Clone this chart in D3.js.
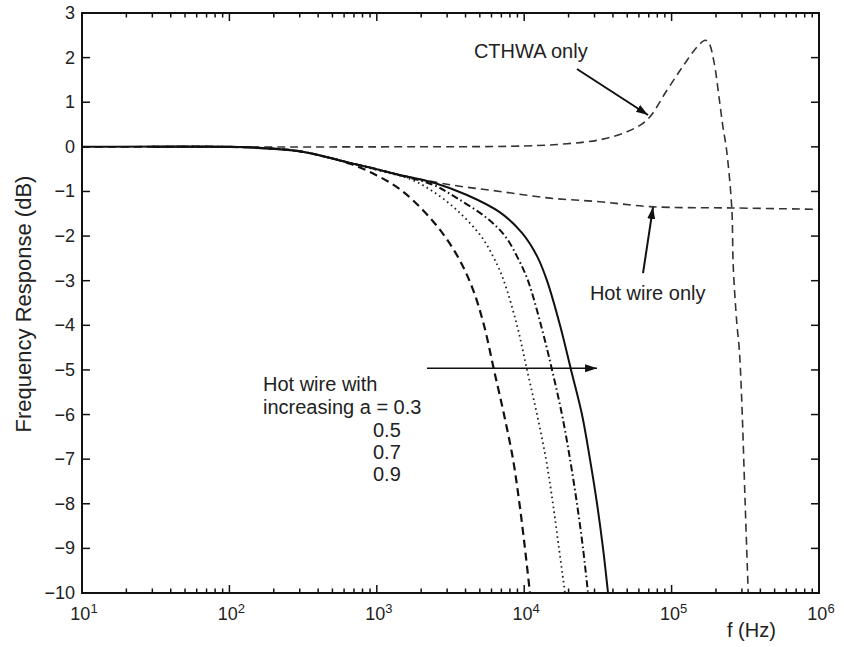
<!DOCTYPE html>
<html>
<head>
<meta charset="utf-8">
<script src="https://cdn.jsdelivr.net/npm/d3@7"></script>
<style>
  body { margin: 0; background: #fff; }
  text { font-family: "Liberation Sans", Arial, Helvetica, sans-serif; fill: #222; }
</style>
</head>
<body>
<div id="chart"></div>
<script>
// axis ticks
const decades = [1e1, 1e2, 1e3, 1e4, 1e5, 1e6];
const decadeExponents = ["1", "2", "3", "4", "5", "6"];
const dbTicks = [3, 2, 1, 0, -1, -2, -3, -4, -5, -6, -7, -8, -9, -10];

// series, [f (Hz), response (dB)]
const cthwaOnly = [[10,0],[1e3,0],[1e4,0.02],[1.95e4,0.07],[3.27e4,0.16],[4.98e4,0.34],[6.8e4,0.6],
  [9.3e4,1.27],[1.19e5,1.8],[1.49e5,2.24],[1.69e5,2.39],[1.79e5,2.33],[1.94e5,1.9],[2.10e5,1.1],
  [2.23e5,0.45],[2.36e5,-0.07],[2.56e5,-1.37],[2.62e5,-2.69],[2.77e5,-3.95],[2.88e5,-4.55],
  [2.99e5,-5.67],[3.15e5,-7.92],[3.31e5,-10]];
const hotWireOnly = [[10,0],[100,0],[150,-0.02],[300,-0.1],[660,-0.36],[1000,-0.5],[1435,-0.63],
  [3140,-0.85],[6855,-1.0],[1.5e4,-1.15],[3.27e4,-1.23],[7.13e4,-1.34],[2.61e5,-1.37],[1e6,-1.4]];
const hotWireA03 = [[30,0],[100,0],[150,-0.02],[300,-0.1],[658,-0.38],[1000,-0.64],[1436,-0.95],
  [2057,-1.42],[2813,-1.95],[3665,-2.55],[4494,-3.2],[5337,-4],[6237,-5],[7295,-6],[8395,-7],
  [9290,-8],[10120,-9],[10940,-10]];
const hotWireA05 = [[30,0],[100,0],[150,-0.02],[300,-0.1],[658,-0.36],[1000,-0.52],[1680,-0.72],
  [2405,-1.0],[3500,-1.42],[5093,-2.0],[6140,-2.45],[7178,-2.95],[8935,-4],[10450,-5],[12220,-6],
  [14060,-7],[15670,-8],[17220,-9],[18920,-10]];
const hotWireA07 = [[30,0],[100,0],[150,-0.02],[300,-0.1],[658,-0.36],[1000,-0.5],[1436,-0.64],
  [2405,-0.85],[3500,-1.15],[5597,-1.6],[7413,-2.0],[9080,-2.5],[10610,-3],[13000,-4],[15450,-5],
  [18040,-6],[20460,-7],[22810,-8],[25060,-9],[27100,-10]];
const hotWireA09 = [[10,0],[100,0],[150,-0.02],[300,-0.1],[658,-0.36],[1000,-0.5],[1436,-0.63],
  [2405,-0.8],[4090,-1.08],[6855,-1.47],[9662,-1.93],[12220,-2.45],[14280,-3.0],[17500,-4],
  [20790,-5],[24660,-6],[27930,-7],[31200,-8],[34260,-9],[37050,-10]];

// annotation arrows and labels, in data units
const arrows = [
  { from: [2.28e4, 1.745], to: [6.92e4, 0.714], w: 2 },
  { from: [6.4e4, -2.83], to: [7.48e4, -1.35], w: 2 },
  { from: [2.19e3, -4.96], to: [3.12e4, -4.96], w: 1.5 }
];
const labels = [
  { text: "CTHWA only", f: 4560, db: 2.0 },
  { text: "Hot wire only", f: 2.79e4, db: -3.43 },
  { text: "Hot wire with", f: 169, db: -5.47 },
  { text: "increasing a = 0.3", f: 169, db: -5.99 },
  { text: "0.5", f: 942, db: -6.51 },
  { text: "0.7", f: 942, db: -7.0 },
  { text: "0.9", f: 942, db: -7.49 }
];

const width = 844, height = 647;
const margin = { top: 13, right: 25, bottom: 54, left: 82 };
const plotW = width - margin.left - margin.right;
const plotH = height - margin.top - margin.bottom;
const x0 = margin.left, x1 = width - margin.right;
const y0 = margin.top, y1 = height - margin.bottom;

const svg = d3.select("#chart").append("svg")
  .attr("width", width)
  .attr("height", height);

const xScale = d3.scaleLog().domain([1e1, 1e6]).range([x0, x1]);
const yScale = d3.scaleLinear().domain([-10, 3]).range([y1, y0]);

const defs = svg.append("defs");
defs.append("clipPath")
  .attr("id", "clip")
  .append("rect")
  .attr("x", x0).attr("y", y0)
  .attr("width", plotW)
  .attr("height", plotH);

defs.append("marker")
  .attr("id", "head")
  .attr("markerUnits", "userSpaceOnUse")
  .attr("markerWidth", 14).attr("markerHeight", 10)
  .attr("refX", 12).attr("refY", 4)
  .attr("orient", "auto")
  .append("path")
  .attr("d", "M0,0 L12,4 L0,8 Z")
  .attr("fill", "#111");

const line = d3.line()
  .x(d => xScale(d[0]))
  .y(d => yScale(d[1]))
  .curve(d3.curveCatmullRom.alpha(0.5));

const series = [
  { data: cthwaOnly, dash: "8,5", w: 1.6, color: "#333" },
  { data: hotWireOnly, dash: "8,5", w: 1.6, color: "#333" },
  { data: hotWireA03, dash: "8,5", w: 2.2, color: "#111" },
  { data: hotWireA05, dash: "1.6,3.4", w: 1.8, color: "#222" },
  { data: hotWireA07, dash: "7,3,1.6,3", w: 2, color: "#111" },
  { data: hotWireA09, dash: null, w: 2, color: "#111" }
];

svg.append("g").attr("clip-path", "url(#clip)")
  .selectAll(".curve")
  .data(series)
  .enter()
  .append("path")
  .attr("class", "curve")
  .attr("d", d => line(d.data))
  .attr("fill", "none")
  .attr("stroke", d => d.color)
  .attr("stroke-width", d => d.w)
  .attr("stroke-dasharray", d => d.dash);

// ticks, MATLAB style, pointing inwards on all four sides
const minorTicks = xScale.ticks().filter(t => !decades.includes(t));
const tickG = svg.append("g").attr("stroke", "#111").attr("stroke-width", 1.5);
[[y0, 1], [y1, -1]].forEach(([yb, dir]) => {
  tickG.selectAll(null).data(decades).enter().append("line")
    .attr("x1", d => xScale(d)).attr("x2", d => xScale(d))
    .attr("y1", yb).attr("y2", yb + dir * 8);
  tickG.selectAll(null).data(minorTicks).enter().append("line")
    .attr("x1", d => xScale(d)).attr("x2", d => xScale(d))
    .attr("y1", yb).attr("y2", yb + dir * 4.5);
});
[[x0, 1], [x1, -1]].forEach(([xb, dir]) => {
  tickG.selectAll(null).data(dbTicks).enter().append("line")
    .attr("y1", d => yScale(d)).attr("y2", d => yScale(d))
    .attr("x1", xb).attr("x2", xb + dir * 8);
});

// frame
svg.append("rect")
  .attr("x", x0).attr("y", y0)
  .attr("width", plotW)
  .attr("height", plotH)
  .attr("fill", "none")
  .attr("stroke", "#111")
  .attr("stroke-width", 2);

// y tick labels
svg.append("g")
  .selectAll(".ylab")
  .data(dbTicks)
  .enter()
  .append("text")
  .attr("class", "ylab")
  .attr("x", x0 - 7)
  .attr("y", d => yScale(d) + 6)
  .attr("text-anchor", "end")
  .attr("font-size", 18)
  .text(d => d < 0 ? "\u2212" + Math.abs(d) : d);

// x tick labels, 10 with superscript exponent
const xlab = svg.append("g")
  .selectAll(".xlab")
  .data(decades)
  .enter()
  .append("text")
  .attr("class", "xlab")
  .attr("x", d => xScale(d) + 2)
  .attr("y", y1 + 27)
  .attr("text-anchor", "middle")
  .attr("font-size", 18);
xlab.append("tspan").text("10");
xlab.append("tspan")
  .attr("font-size", 13)
  .attr("dy", -7)
  .text((d, i) => decadeExponents[i]);

// axis titles
svg.append("text")
  .attr("transform", `translate(31,${y0 + plotH / 2 + 1}) rotate(-90)`)
  .attr("text-anchor", "middle")
  .attr("font-size", 22)
  .text("Frequency Response (dB)");

svg.append("text")
  .attr("x", x1 - 92)
  .attr("y", y1 + 44)
  .attr("font-size", 20)
  .text("f (Hz)");

// annotations
svg.append("g")
  .selectAll(".arrow")
  .data(arrows)
  .enter()
  .append("line")
  .attr("class", "arrow")
  .attr("x1", d => xScale(d.from[0])).attr("y1", d => yScale(d.from[1]))
  .attr("x2", d => xScale(d.to[0])).attr("y2", d => yScale(d.to[1]))
  .attr("stroke", "#111")
  .attr("stroke-width", d => d.w)
  .attr("marker-end", "url(#head)");

svg.append("g")
  .selectAll(".note")
  .data(labels)
  .enter()
  .append("text")
  .attr("class", "note")
  .attr("x", d => xScale(d.f))
  .attr("y", d => yScale(d.db))
  .attr("font-size", 20)
  .text(d => d.text);
</script>
</body>
</html>
